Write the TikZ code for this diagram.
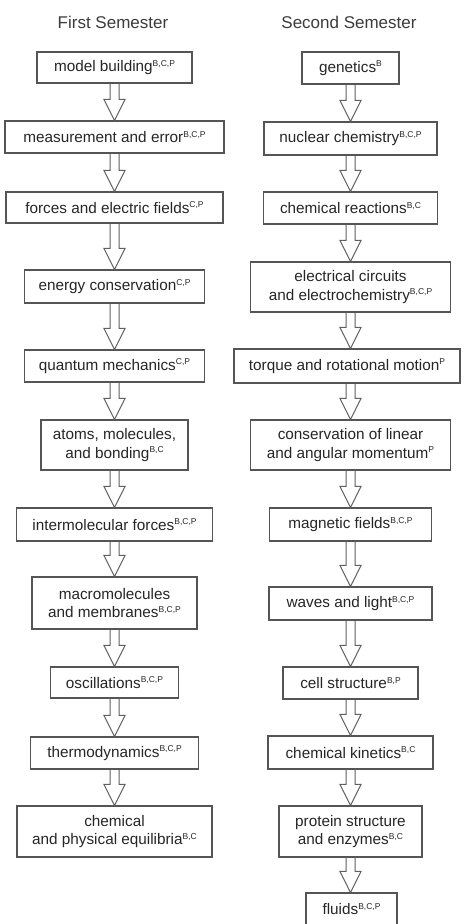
\documentclass[tikz,border=0pt]{standalone}
\usepackage{fontspec}
\setmainfont{Liberation Sans}
\usetikzlibrary{calc}
\definecolor{boxgray}{HTML}{555555}
\definecolor{arrgray}{HTML}{606060}
\definecolor{txtgray}{HTML}{262626}
\newcommand\sups[1]{\raisebox{5.4pt}{\fontsize{8.5}{9}\selectfont #1}}
\tikzset{
  box/.style={draw=boxgray, line width=1.2pt, text=txtgray, align=center,
    inner sep=0pt, font=\fontsize{15.3}{18.5}\selectfont},
  ttl/.style={text=txtgray!90, font=\fontsize{17}{20}\selectfont, inner sep=0pt},
  harrow/.style={draw=arrgray, line width=1pt, to path={let \p1=(\tikztostart), \p2=(\tikztotarget) in
    (\x1-4.5pt,\y1) -- (\x1-4.5pt,\y2+21pt) -- (\x1-10.5pt,\y2+21pt) -- (\x1,\y2)
    -- (\x1+10.5pt,\y2+21pt) -- (\x1+4.5pt,\y2+21pt) -- (\x1+4.5pt,\y1)}}
}
\begin{document}
\begin{tikzpicture}[x=1pt,y=-1pt]
\useasboundingbox[fill=white] (0,0) rectangle (464,924);
\clip (0,0) rectangle (464,924);
% titles
\node[ttl] (t1) at (113,22) {First Semester};
\node[ttl] (t2) at (349,22) {Second Semester};
% left column
\node[box, minimum width=155pt, minimum height=31pt] (l1) at (114.5,67.5) {model building\sups{B,C,P}};
\node[box, minimum width=219pt, minimum height=32pt] (l2) at (114.5,137) {measurement and error\sups{B,C,P}};
\node[box, minimum width=217pt, minimum height=31pt] (l3) at (114.5,207.5) {forces and electric fields\sups{C,P}};
\node[box, minimum width=180pt, minimum height=33pt] (l4) at (114.5,286.5) {energy conservation\sups{C,P}};
\node[box, minimum width=180pt, minimum height=32pt] (l5) at (114.5,366) {quantum mechanics\sups{C,P}};
\node[box, minimum width=147pt, minimum height=50pt] (l6) at (114.5,445) {atoms, molecules,\\and bonding\sups{B,C}};
\node[box, minimum width=196pt, minimum height=33pt] (l7) at (114.5,524.5) {intermolecular forces\sups{B,C,P}};
\node[box, minimum width=165pt, minimum height=52pt] (l8) at (114.5,603) {macromolecules\\and membranes\sups{B,C,P}};
\node[box, minimum width=128pt, minimum height=31pt] (l9) at (114.5,682.5) {oscillations\sups{B,C,P}};
\node[box, minimum width=168pt, minimum height=32pt] (l10) at (114.5,753) {thermodynamics\sups{B,C,P}};
\node[box, minimum width=195pt, minimum height=51pt] (l11) at (114.5,831.5) {chemical\\and physical equilibria\sups{B,C}};
% right column
\node[box, minimum width=97pt, minimum height=32pt] (r1) at (350.5,68) {genetics\sups{B}};
\node[box, minimum width=173pt, minimum height=33pt] (r2) at (350.5,138.5) {nuclear chemistry\sups{B,C,P}};
\node[box, minimum width=174pt, minimum height=32pt] (r3) at (350.5,208) {chemical reactions\sups{B,C}};
\node[box, minimum width=200pt, minimum height=50pt] (r4) at (350.5,287) {electrical circuits\\and electrochemistry\sups{B,C,P}};
\node[box, minimum width=226pt, minimum height=34pt] (r5) at (347,366) {torque and rotational motion\sups{P}};
\node[box, minimum width=200pt, minimum height=50pt] (r6) at (350.5,445) {conservation of linear\\and angular momentum\sups{P}};
\node[box, minimum width=162pt, minimum height=33pt] (r7) at (350.5,524.5) {magnetic fields\sups{B,C,P}};
\node[box, minimum width=163pt, minimum height=33pt] (r8) at (350.5,603.5) {waves and light\sups{B,C,P}};
\node[box, minimum width=135pt, minimum height=32pt] (r9) at (350.5,683) {cell structure\sups{B,P}};
\node[box, minimum width=165pt, minimum height=33pt] (r10) at (350.5,752.5) {chemical kinetics\sups{B,C}};
\node[box, minimum width=143pt, minimum height=51pt] (r11) at (350.5,831.5) {protein structure\\and enzymes\sups{B,C}};
\node[box, minimum width=91pt, minimum height=32pt] (r12) at (351.5,909) {fluids\sups{B,C,P}};
% arrows left
\foreach \a/\b in {l1/l2,l2/l3,l3/l4,l4/l5,l5/l6,l6/l7,l7/l8,l8/l9,l9/l10,l10/l11}
  \draw[harrow] (\a.south) to (\b.north);
% arrows right
\foreach \a/\b in {r1/r2,r2/r3,r3/r4,r4/r5,r6/r7,r7/r8,r8/r9,r9/r10,r10/r11,r11/r12}
  \draw[harrow] (\a.south) to (\b.north);
\draw[harrow] ($(r5.south)+(3.5,0)$) to (r6.north);
\end{tikzpicture}
\end{document}
